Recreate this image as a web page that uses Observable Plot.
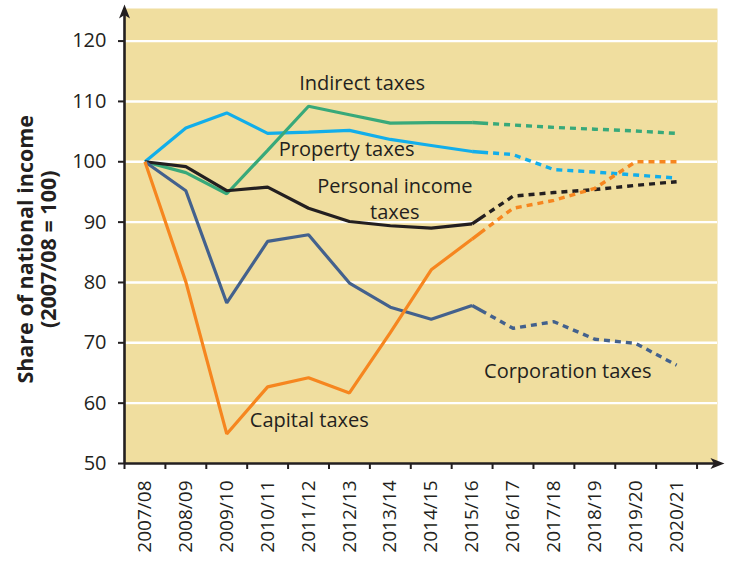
<!DOCTYPE html>
<html><head><meta charset="utf-8">
<script src="https://cdn.jsdelivr.net/npm/d3@7"></script>
<script src="https://cdn.jsdelivr.net/npm/@observablehq/plot@0.6"></script>
<style>
html,body{margin:0;padding:0;background:#fff;}
#chart svg{display:block;}
</style></head><body><div id="chart"></div>
<script>
// ---- data ----
const years = ["2007/08","2008/09","2009/10","2010/11","2011/12","2012/13","2013/14","2014/15","2015/16","2016/17","2017/18","2018/19","2019/20","2020/21"];
const lastOutturn = "2015/16";
const indirect    = [100, 98.2, 94.7, 101.9, 109.2, 107.8, 106.4, 106.5, 106.5, 106.1, 105.7, 105.4, 105.1, 104.7];
const property    = [100, 105.6, 108.1, 104.7, 104.9, 105.2, 103.7, 102.7, 101.7, 101.2, 98.7, 98.3, 97.8, 97.3];
const personal    = [100, 99.2, 95.2, 95.8, 92.3, 90.1, 89.4, 89.0, 89.7, 94.3, 94.9, 95.4, 96.1, 96.7];
const capital     = [100, 80.1, 54.9, 62.7, 64.2, 61.7, 71.7, 82.1, 87.2, 92.3, 93.6, 95.6, 100.0, 100.0];
const corporation = [100, 95.2, 76.6, 86.8, 87.9, 79.9, 75.9, 73.9, 76.2, 72.4, 73.5, 70.6, 69.9, 66.3];
const seriesNames = ["Property taxes", "Indirect taxes", "Personal income taxes", "Corporation taxes", "Capital taxes"];
const seriesColors = ["#12aeea", "#38a97a", "#231f20", "#43618d", "#f6861f"];
const yTicks = [50, 60, 70, 80, 90, 100, 110, 120];
const yTitle = "Share of national income\n(2007/08 = 100)";
const labelTexts = ["Indirect taxes", "Property taxes", "Personal income\ntaxes", "Capital taxes", "Corporation taxes"];
const labelYears = [5.31, 4.93, 6.11, 4.02, 10.34];
const labelValues = [113.3, 102.3, 94.0, 57.5, 65.6];

// ---- build table ----
const seriesValues = [property, indirect, personal, corporation, capital];
const rows = seriesNames.flatMap((name, s) => seriesValues[s].map((v, i) => ({series: name, i, year: years[i], value: v})));
const split = years.indexOf(lastOutturn);
const labels = labelTexts.map((t, k) => ({text: t, x: labelYears[k], y: labelValues[k]}));

const ink = "#231f20";
const font = "'Open Sans', 'DejaVu Sans', sans-serif";
const dash = ["16", "5"].concat(Array(24).fill("6,5")).join(",");
const arrowHead = {draw(ctx) { ctx.moveTo(0, 0); ctx.lineTo(5.5, 14); ctx.lineTo(0, 10.5); ctx.lineTo(-5.5, 14); ctx.closePath(); }};

const chart = Plot.plot({
  width: 735,
  height: 578,
  marginLeft: 124,
  marginRight: 18,
  marginTop: 8,
  marginBottom: 115,
  style: {fontFamily: font, fontSize: "20px", color: ink, background: "#fff", overflow: "visible"},
  x: {type: "linear", domain: [-0.5, 14.0]},
  y: {type: "linear", domain: [50, 125.4]},
  color: {domain: seriesNames, range: seriesColors},
  marks: [
    Plot.frame({fill: "#f0de9f", stroke: null}),
    Plot.gridY({ticks: yTicks.filter(d => d > 50), stroke: "#fff", strokeOpacity: 1, strokeWidth: 2.4}),
    Plot.line(rows.filter(d => d.i <= split), {x: "i", y: "value", z: "series", stroke: "series", strokeWidth: 3.2, strokeLinejoin: "miter", strokeLinecap: "butt"}),
    Plot.line(rows.filter(d => d.i >= split), {x: "i", y: "value", z: "series", stroke: "series", strokeWidth: 3.4, strokeDasharray: dash, strokeLinecap: "butt"}),
    Plot.text(labels, {x: "x", y: "y", text: "text", fontSize: 20, fill: ink, textAnchor: "middle", lineAnchor: "middle", lineHeight: 1.3}),
    // axes
    Plot.axisY({ticks: yTicks, tickSize: 6, tickPadding: 12, fontSize: 20, stroke: ink, strokeWidth: 2, fill: ink, label: null, tickFormat: d => String(d)}),
    Plot.axisX({ticks: d3.range(15).map(k => k - 0.5), tickSize: 6, stroke: ink, strokeWidth: 2, tickFormat: () => "", label: null}),
    Plot.axisX({ticks: d3.range(years.length), tickSize: 0, tickPadding: 17, tickRotate: -90, fontSize: 19, fill: ink, tickFormat: i => years[i], label: null}),
    Plot.ruleX([-0.5], {y1: 50, y2: 125.4, stroke: ink, strokeWidth: 2.6}),
    Plot.ruleY([50], {x1: -0.5, x2: 14.0, stroke: ink, strokeWidth: 2.6}),
    Plot.dot([0], {x: -0.5, y: 126.07, symbol: arrowHead, fill: ink, stroke: null, r: 5}),
    Plot.dot([0], {x: 14.17, y: 50, symbol: arrowHead, fill: ink, stroke: null, r: 5, rotate: 90}),
    Plot.text([yTitle], {x: -2.63, y: 85.5, text: d => d, rotate: -90, fontSize: 21.5, fontWeight: "bold", fill: ink, textAnchor: "middle", lineAnchor: "middle", lineHeight: 1.06})
  ]
});
document.getElementById("chart").appendChild(chart);
</script>
</body></html>
